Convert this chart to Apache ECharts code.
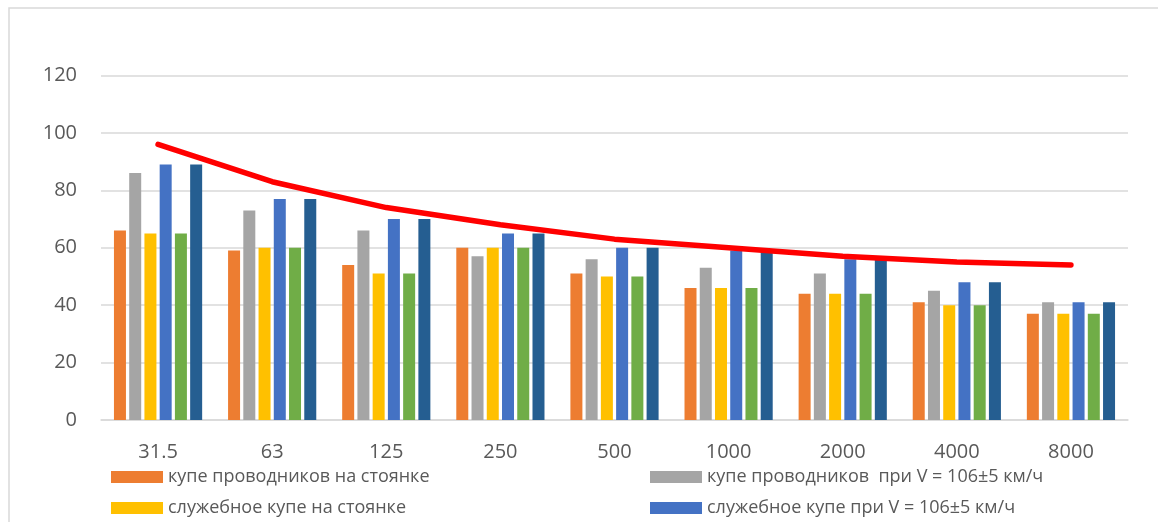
<!DOCTYPE html>
<html>
<head>
<meta charset="utf-8">
<script src="https://cdn.jsdelivr.net/npm/echarts@6/dist/echarts.min.js"></script>
<style>
  html, body { margin: 0; padding: 0; background: #fff; }
  #chart { width: 1158px; height: 522px; }
</style>
</head>
<body>
<div id="chart"></div>
<script>
// частоты, Гц
const categories = ['31.5', '63', '125', '250', '500', '1000', '2000', '4000', '8000']

const names = [
  'купе проводников на стоянке',
  'купе проводников  при V = 106±5 км/ч',
  'служебное купе на стоянке',
  'служебное купе при V = 106±5 км/ч',
  'ряд 5',
  'ряд 6',
  'ПДУ'
]

const conductorStop = [66, 59, 54, 60, 51, 46, 44, 41, 37]
const conductorMove = [86, 73, 66, 57, 56, 53, 51, 45, 41]
const serviceStop   = [65, 60, 51, 60, 50, 46, 44, 40, 37]
const serviceMove   = [89, 77, 70, 65, 60, 59, 56, 48, 41]
const series5       = [65, 60, 51, 60, 50, 46, 44, 40, 37]
const series6       = [89, 77, 70, 65, 60, 59, 56, 48, 41]
const limitLine     = [96, 83, 74, 68, 63, 60, 57, 55, 54]

const colors = ['#ED7D31', '#A5A5A5', '#FFC000', '#4472C4', '#70AD47', '#255E91']
const barData = [conductorStop, conductorMove, serviceStop, serviceMove, series5, series6]

const chart = echarts.init(document.getElementById('chart'))

const textStyle = { color: '#595959', fontFamily: 'Open Sans', fontSize: 18 }

// одна легенда на каждую видимую запись, чтобы колонки стояли как в Excel
const legendPos = [[106, 463], [645, 463], [106, 494], [645, 494]]
const legends = legendPos.map((p, i) => ({
  data: [names[i]],
  left: p[0], top: p[1],
  itemWidth: 52, itemHeight: 12,
  icon: 'rect',
  textStyle: textStyle
}))

const option = {
  backgroundColor: '#fff',
  animation: false,
  graphic: [{
    type: 'rect',
    shape: { x: 9, y: 8, width: 1200, height: 600 },
    style: { fill: 'none', stroke: '#d9d9d9', lineWidth: 1.5 },
    silent: true
  }],
  grid: { left: 101, right: 30, top: 75.5, bottom: 102 },
  legend: legends,
  xAxis: {
    type: 'category',
    data: categories,
    axisTick: { show: false },
    axisLine: { lineStyle: { color: '#d9d9d9', width: 1.5 } },
    axisLabel: { color: '#595959', fontFamily: 'Open Sans', fontSize: 20, margin: 22 }
  },
  yAxis: {
    type: 'value',
    min: 0, max: 120, interval: 20,
    axisLine: { show: false },
    axisTick: { show: false },
    splitLine: { lineStyle: { color: '#d9d9d9', width: 1.5 } },
    axisLabel: { color: '#595959', fontFamily: 'Open Sans', fontSize: 20, margin: 24 }
  },
  series: [
    ...barData.map((d, i) => ({
      name: names[i],
      type: 'bar',
      data: d,
      barWidth: 12,
      barGap: '27%',
      itemStyle: { color: colors[i] }
    })),
    {
      name: names[6],
      type: 'line',
      data: limitLine,
      symbol: 'none',
      z: 5,
      lineStyle: { color: '#FF0000', width: 5.5, cap: 'round', join: 'round' }
    }
  ]
}

chart.setOption(option)
</script>
</body>
</html>
